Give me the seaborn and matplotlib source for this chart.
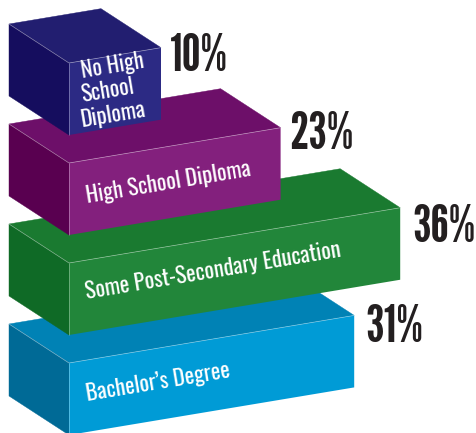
import numpy as np
import pandas as pd
import matplotlib
matplotlib.use("Agg")
import matplotlib.pyplot as plt
from matplotlib import font_manager as fm
from matplotlib.patches import Polygon
from matplotlib.transforms import Affine2D
import seaborn as sns

# Attainment levels, stacked top to bottom
categories = ["No High\nSchool\nDiploma", "High School Diploma",
              "Some Post-Secondary Education", "Bachelor\u2019s Degree"]
shares = [10, 23, 36, 31]

front_colors = ["#2C2A84", "#83207D", "#22863A", "#009BD6"]
top_colors = ["#221E70", "#6D0F69", "#1A7A30", "#0082B5"]
side_colors = ["#150D5E", "#590050", "#0F6A26", "#006A96"]

# Oblique projection of the blocks, in pixels
PX_PER_PCT = 9.2
RISE_PER_PCT = 1.535
LEVEL_GAP = 100
ORIGIN_X, ORIGIN_Y = 69, 99
DEPTH = np.array([-60, -39])
BAR_WIDTH = 0.72
ANGLE = 9.45
LINE_STEP = 24.5

# Per-label offsets of the percentage text from each block's top right corner
pct_dx = [9, 9, 12, 11]
pct_dy = [23, 21, 34, 27]

# Text start positions on the front faces
text_dx = [13, 18, 18, 18]
text_dy = [15, 40, 36, 38]

installed = {f.name for f in fm.fontManager.ttflist}
pct_family = next((n for n in ["League Gothic", "Anton"] if n in installed), "DejaVu Sans")
label_family = next((n for n in ["Oswald", "Fjalla One", "League Gothic"] if n in installed), "DejaVu Sans")

sns.set_theme(style="white", rc={"font.family": [pct_family, "DejaVu Sans"]})
fig = plt.figure(figsize=(4.77, 4.33), dpi=100)
ax = fig.add_axes([0, 0, 1, 1])

table = pd.DataFrame({"level": categories, "share": shares})
sns.barplot(data=table, x="share", y="level", hue="level", palette=front_colors,
            saturation=1, width=BAR_WIDTH, legend=False, dodge=False, ax=ax, linewidth=0)
ax.set_xlim(0, 477)
ax.set_ylim(433, 0)
ax.axis("off")

# Shear the flat bars (share, level) onto the sloped front faces
shear = Affine2D.from_values(PX_PER_PCT, -RISE_PER_PCT, 0, LEVEL_GAP, ORIGIN_X, ORIGIN_Y)


def to_px(u, level):
    return shear.transform((u, level))


edge = dict(color="white", alpha=0.45, lw=0.5, solid_capstyle="butt")
half = BAR_WIDTH / 2
bars = sorted(ax.patches, key=lambda p: p.get_y())
for i, (bar, share) in enumerate(zip(bars, shares)):
    z = 10 + (len(shares) - i) * 5
    bar.set_transform(shear + ax.transData)
    bar.set_zorder(z + 1)
    bar.set_linewidth(0)

    tl, tr = to_px(0, i - half), to_px(share, i - half)
    bl = to_px(0, i + half)
    ax.add_patch(Polygon([tl, tr, tr + DEPTH, tl + DEPTH], closed=True, fc=top_colors[i],
                         ec=top_colors[i], lw=0.3, zorder=z))
    ax.add_patch(Polygon([tl, bl, bl + DEPTH, tl + DEPTH], closed=True, fc=side_colors[i],
                         ec=side_colors[i], lw=0.3, zorder=z))
    for a, b in [(tl, tr), (tl, tl + DEPTH), (tl, bl)]:
        ax.plot([a[0], b[0]], [a[1], b[1]], zorder=z + 2, **edge)

    # Each line starts at the same x, so stacked lines follow the face's shear
    for n, line in enumerate(categories[i].split("\n")):
        ax.text(tl[0] + text_dx[i], tl[1] + text_dy[i] + n * LINE_STEP, line, color="white",
                family=[label_family, "DejaVu Sans"], fontsize=16, fontweight="bold",
                rotation=ANGLE, rotation_mode="anchor", ha="left", va="baseline", zorder=z + 3)
    ax.text(tr[0] + pct_dx[i], tr[1] + pct_dy[i], f"{share}%", color="#231F20",
            fontsize=38, fontweight="bold", ha="left", va="baseline", zorder=40)

fig.savefig("out.png", dpi=100, facecolor="white")
